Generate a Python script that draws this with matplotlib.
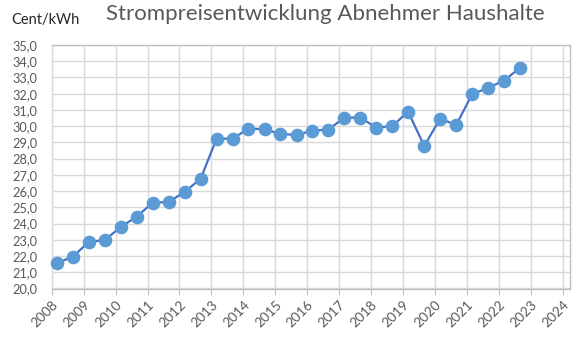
import numpy as np
import pandas as pd
from matplotlib import pyplot as plt
from matplotlib.ticker import FuncFormatter, MultipleLocator

# Halbjahreswerte (Stichtag jeweils 1. März / 1. September)
stichtage = ['2008-03-01', '2008-09-01', '2009-03-01', '2009-09-01', '2010-03-01', '2010-09-01',
             '2011-03-01', '2011-09-01', '2012-03-01', '2012-09-01', '2013-03-01', '2013-09-01',
             '2014-03-01', '2014-09-01', '2015-03-01', '2015-09-01', '2016-03-01', '2016-09-01',
             '2017-03-01', '2017-09-01', '2018-03-01', '2018-09-01', '2019-03-01', '2019-09-01',
             '2020-03-01', '2020-09-01', '2021-03-01', '2021-09-01', '2022-03-01', '2022-09-01']
preise = [21.56, 21.97, 22.87, 22.99, 23.79, 24.43, 25.29, 25.33, 25.95, 26.77,
          29.23, 29.23, 29.85, 29.81, 29.52, 29.46, 29.72, 29.79, 30.53, 30.53,
          29.91, 30.01, 30.89, 28.78, 30.46, 30.07, 31.96, 32.37, 32.80, 33.60]
jahre = list(range(2008, 2025))

plt.rcParams['font.family'] = ['Lato', 'DejaVu Sans']

d = pd.to_datetime(stichtage)
x = d.year + (d.dayofyear - 1) / np.where(d.is_leap_year, 366, 365)

fig = plt.figure(figsize=(5.8, 3.39), dpi=100)
ax = fig.add_axes([51.7 / 580, 1 - 288.5 / 339, (570 - 51.7) / 580, (288.5 - 45) / 339])

ax.plot(x, preise, color='#4472C4', lw=1.6, marker='o', ms=8.8,
        mfc='#5B9BD5', mec='#5B9BD5', zorder=3, clip_on=False)

ax.set_xlim(2008, 2024.23)
ax.set_ylim(20, 35)
ax.set_xticks(jahre)
ax.set_xticklabels([str(j) for j in jahre], rotation=45, ha='right', va='top',
                   rotation_mode='anchor')
ax.yaxis.set_major_locator(MultipleLocator(1))
ax.yaxis.set_major_formatter(FuncFormatter(lambda v, p: f'{v:.1f}'.replace('.', ',')))

ax.grid(True, color='#D9D9D9', lw=1)
ax.set_axisbelow(True)
for s in ax.spines.values():
    s.set_color('#BFBFBF')
    s.set_linewidth(1)
ax.spines['left'].set_color('#D9D9D9')
ax.tick_params(axis='y', length=0, pad=10.5, labelsize=9.2, labelcolor='#595959')
ax.tick_params(axis='x', length=4, color='#BFBFBF', pad=3, labelsize=9.8, labelcolor='#595959')

fig.text(11 / 580, 1 - 20 / 339, 'Cent/kWh', fontsize=10.5, color='#262626',
         ha='left', va='center')
fig.text(325 / 580, 1 - 14 / 339, 'Strompreisentwicklung Abnehmer Haushalte',
         fontsize=16, color='#595959', ha='center', va='center')

fig.savefig('out.png', dpi=100)
